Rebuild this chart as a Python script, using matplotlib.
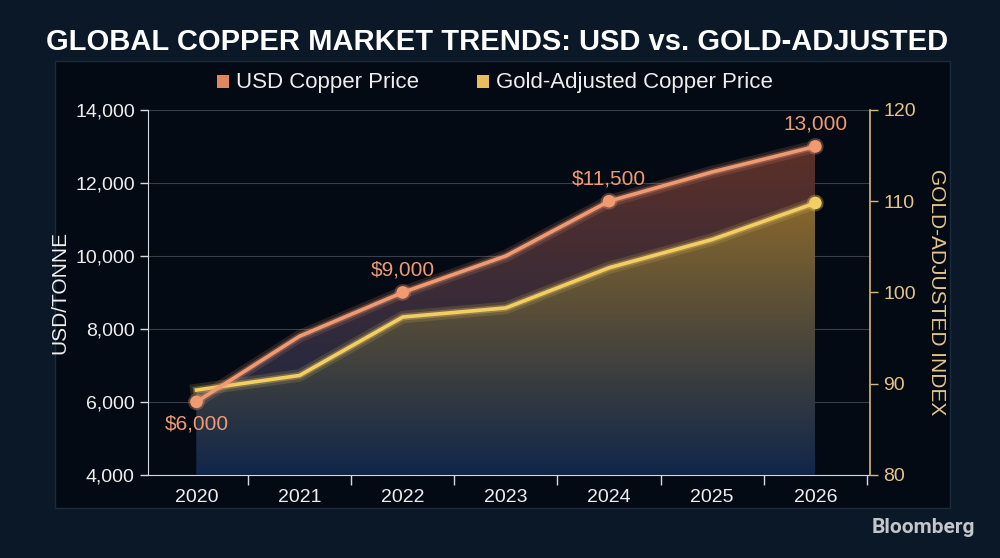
import numpy as np
import matplotlib
matplotlib.use('Agg')
import matplotlib.pyplot as plt
import matplotlib.patheffects as pe
from matplotlib.patches import Rectangle, Polygon
from matplotlib.ticker import FixedLocator, FuncFormatter

years = [2020, 2021, 2022, 2023, 2024, 2025, 2026]
usd_price = [6000, 7800, 9000, 10000, 11500, 12300, 13000]
gold_index = [89.3, 90.9, 97.3, 98.3, 102.7, 105.8, 109.8]
usd_labels = {2020: '$6,000', 2022: '$9,000', 2024: '$11,500', 2026: '13,000'}

ORANGE = '#f09a72'
YELLOW = '#f3cf63'
GOLD_TXT = '#e3c48a'
BG = '#0b1828'
PANEL = '#040a14'

plt.rcParams['font.family'] = ['Liberation Sans', 'DejaVu Sans']

fig = plt.figure(figsize=(10, 5.58), dpi=100, facecolor=BG)
panel = Rectangle((0.055, 0.09), 0.895, 0.80, transform=fig.transFigure,
                  facecolor=PANEL, edgecolor='#1c2a3c', lw=1, zorder=-5)
fig.add_artist(panel)

ax = fig.add_axes([0.148, 0.149, 0.722, 0.654])
ax.patch.set_visible(False)
ax2 = ax.twinx()


def gradient_fill(axis, xs, ys, bottom, top_rgb, bot_rgb, ytop, alpha=1.0):
    n = 256
    t = np.linspace(0, 1, n)[:, None]
    top = np.array(top_rgb) / 255.0
    bot = np.array(bot_rgb) / 255.0
    rgb = top * (1 - t) + bot * t
    img = np.dstack([rgb[:, 0:1].repeat(2, 1), rgb[:, 1:2].repeat(2, 1),
                     rgb[:, 2:3].repeat(2, 1), np.full((n, 2), alpha)])
    im = axis.imshow(img, extent=(xs[0], xs[-1], bottom, ytop), aspect='auto',
                     origin='upper', zorder=1, interpolation='bilinear')
    verts = [(xs[0], bottom)] + list(zip(xs, ys)) + [(xs[-1], bottom)]
    poly = Polygon(verts, closed=True, transform=axis.transData, facecolor='none', edgecolor='none')
    axis.add_patch(poly)
    im.set_clip_path(poly)


# fill under USD line: brownish near top, navy at bottom
gradient_fill(ax, years, usd_price, 4000, (92, 48, 40), (16, 38, 74), 13000)
# fill under gold line: golden near top, navy at bottom
gradient_fill(ax2, years, gold_index, 80, (136, 104, 44), (16, 38, 74), 110)

ax.set_xlim(2019.53, 2026.53)
ax.set_ylim(4000, 14000)
ax2.set_ylim(80, 120)

# grid
for v in range(4000, 14001, 2000):
    ax.axhline(v, color='#6a7480', lw=0.8, alpha=0.5, zorder=0.5)

glow = lambda c: [pe.Stroke(linewidth=9, foreground=c, alpha=0.15),
                  pe.Stroke(linewidth=5, foreground=c, alpha=0.3), pe.Normal()]
mglow = lambda c: [pe.Stroke(linewidth=3, foreground=c, alpha=0.3), pe.Normal()]

ax2.plot(years, gold_index, color=YELLOW, lw=2.6, zorder=4, path_effects=glow(YELLOW))
ax2.plot([years[-1]], [gold_index[-1]], 'o', color=YELLOW, ms=9, mew=0, zorder=5,
         path_effects=mglow(YELLOW))

ax2.plot(years, usd_price, color=ORANGE, lw=2.6, zorder=6, transform=ax.transData,
         path_effects=glow(ORANGE))
mk = [y in usd_labels for y in years]
ax2.plot([y for y, m in zip(years, mk) if m], [p for p, m in zip(usd_price, mk) if m], 'o',
         color=ORANGE, ms=9, mew=0, zorder=7, transform=ax.transData, path_effects=mglow(ORANGE))

for y, p in zip(years, usd_price):
    if y in usd_labels:
        dy = -16 if y == 2020 else 16
        ax2.annotate(usd_labels[y], (y, p), xycoords=ax.transData, xytext=(0, dy),
                     textcoords='offset points', ha='center', va='center',
                     color=ORANGE, fontsize=15, zorder=8)

# axes styling
ax.spines['top'].set_visible(False)
ax2.spines['top'].set_visible(False)
ax2.spines['left'].set_visible(False)
ax2.spines['bottom'].set_visible(False)
ax.spines['right'].set_visible(False)
ax.spines['left'].set_color('#d6d9dd')
ax.spines['bottom'].set_color('#d6d9dd')
ax2.spines['right'].set_color('#d9b872')
ax2.spines['right'].set_linewidth(1.2)

ax.set_yticks(range(4000, 14001, 2000))
ax.yaxis.set_major_formatter(FuncFormatter(lambda v, _: f'{int(v):,}'))
ax.tick_params(axis='y', colors='#d6d9dd', labelcolor='#eeeeee', labelsize=14, length=6, width=1)
ax.set_xticks(years)
ax.set_xticklabels([str(y) for y in years])
ax.xaxis.set_minor_locator(FixedLocator([y + 0.5 for y in years]))
ax.tick_params(axis='x', which='major', length=0, labelsize=14, labelcolor='#eeeeee', pad=10)
ax.tick_params(axis='x', which='minor', length=7, color='#d6d9dd', width=1)

ax2.set_yticks([80, 90, 100, 110, 120])
ax2.tick_params(axis='y', colors='#d9b872', labelcolor=GOLD_TXT, labelsize=14, length=6, width=1)

ax.set_ylabel('USD/TONNE', color='#eeeeee', fontsize=15, labelpad=4)
ax2.set_ylabel('GOLD-ADJUSTED INDEX', color=GOLD_TXT, fontsize=15, rotation=-90, labelpad=22)

fig.text(0.497, 0.925, 'GLOBAL COPPER MARKET TRENDS: USD vs. GOLD-ADJUSTED', ha='center', va='center',
         color='white', fontsize=21, fontweight='bold')

# legend
fig.patches.append(Rectangle((0.217, 0.843), 0.012, 0.022, transform=fig.transFigure,
                             facecolor='#e0875e', edgecolor='none'))
fig.text(0.236, 0.853, 'USD Copper Price', ha='left', va='center', color='#eeeeee', fontsize=16)
fig.patches.append(Rectangle((0.477, 0.843), 0.012, 0.022, transform=fig.transFigure,
                             facecolor='#e7be58', edgecolor='none'))
fig.text(0.496, 0.853, 'Gold-Adjusted Copper Price', ha='left', va='center', color='#eeeeee', fontsize=16)

fig.text(0.975, 0.055, 'Bloomberg', ha='right', va='center', color='#c4c6ca', fontsize=15,
         fontweight='bold', family=['Roboto', 'DejaVu Sans'])

fig.savefig('out.png', dpi=100, facecolor=BG)
